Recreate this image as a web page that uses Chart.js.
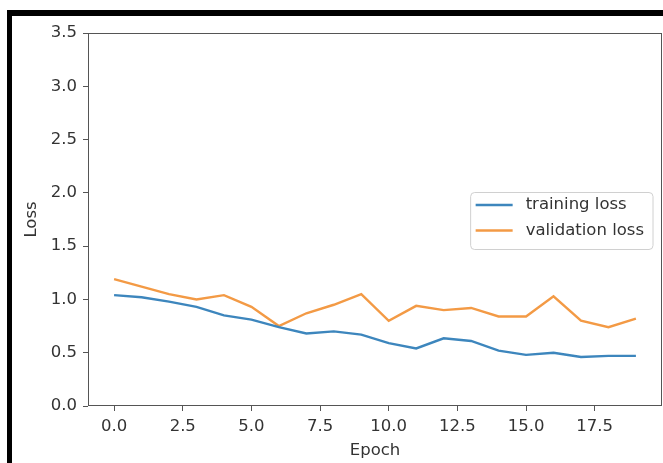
<!DOCTYPE html>
<html>
<head>
<meta charset="utf-8">
<script src="https://cdn.jsdelivr.net/npm/chart.js@4.4.0/dist/chart.umd.min.js"></script>
<style>
  html, body { margin: 0; padding: 0; background: #fff; }
  #wrap { position: relative; width: 663px; height: 463px; overflow: hidden; }
  #frame { position: absolute; left: 7px; top: 10px; width: 700px; height: 500px;
           border-top: 6px solid #000; border-left: 5px solid #000; pointer-events: none; }
</style>
</head>
<body>
<div id="wrap">
  <canvas id="lossChart" width="663" height="463"></canvas>
  <div id="frame"></div>
</div>
<script>
// values
const epochs = [0, 1, 2, 3, 4, 5, 6, 7, 8, 9, 10, 11, 12, 13, 14, 15, 16, 17, 18, 19];
const trainingLoss = [1.04, 1.02, 0.98, 0.93, 0.85, 0.81, 0.74, 0.68, 0.70, 0.67, 0.59, 0.54, 0.635, 0.61, 0.52, 0.48, 0.50, 0.46, 0.47, 0.47];
const validationLoss = [1.19, 1.12, 1.05, 1.00, 1.04, 0.93, 0.75, 0.87, 0.95, 1.05, 0.80, 0.94, 0.90, 0.92, 0.84, 0.84, 1.03, 0.80, 0.74, 0.82];
const xTicks = [0, 2.5, 5, 7.5, 10, 12.5, 15, 17.5];
const yTicks = [0, 0.5, 1, 1.5, 2, 2.5, 3, 3.5];

const font = { family: 'DejaVu Sans', size: 16.5 };
const textColor = '#333';
const axisColor = '#555';

// box around the plot + legend inside the plot (center right)
const boxAndLegend = {
  id: 'boxAndLegend',
  afterDraw(chart) {
    const { ctx, chartArea: a } = chart;
    ctx.save();
    ctx.strokeStyle = axisColor;
    ctx.lineWidth = 1;
    ctx.strokeRect(Math.round(a.left) + 0.5, Math.round(a.top) + 0.5,
                   Math.round(a.right - a.left) - 1, Math.round(a.bottom - a.top) - 1);

    ctx.font = font.size + 'px ' + font.family;
    const sets = chart.data.datasets;
    let tw = 0;
    sets.forEach(d => { tw = Math.max(tw, ctx.measureText(d.label).width); });
    const w = tw + 64, h = 57;
    const x0 = a.right - 9 - w;
    const y0 = (a.top + a.bottom) / 2 - h / 2 + 1.5;
    ctx.beginPath();
    ctx.roundRect(x0, y0, w, h, 4);
    ctx.fillStyle = 'rgba(255,255,255,0.8)';
    ctx.fill();
    ctx.strokeStyle = '#d0d0d0';
    ctx.stroke();

    sets.forEach((d, i) => {
      const yy = y0 + 12.5 + i * 25.5;
      ctx.beginPath();
      ctx.moveTo(x0 + 5, yy);
      ctx.lineTo(x0 + 42, yy);
      ctx.strokeStyle = d.borderColor;
      ctx.lineWidth = d.borderWidth;
      ctx.stroke();
      ctx.fillStyle = textColor;
      ctx.textBaseline = 'middle';
      ctx.fillText(d.label, x0 + 55, yy);
    });
    ctx.restore();
  }
};

new Chart(document.getElementById('lossChart'), {
  type: 'line',
  data: {
    datasets: [{
      label: 'training loss',
      data: epochs.map((e, i) => ({ x: e, y: trainingLoss[i] })),
      borderColor: '#3d86bd',
      borderWidth: 2.4,
      pointRadius: 0,
      tension: 0,
      fill: false
    }, {
      label: 'validation loss',
      data: epochs.map((e, i) => ({ x: e, y: validationLoss[i] })),
      borderColor: '#f39a45',
      borderWidth: 2.4,
      pointRadius: 0,
      tension: 0,
      fill: false
    }]
  },
  options: {
    responsive: false,
    animation: false,
    layout: { padding: { left: 22, top: 33, right: 1, bottom: 2 } },
    plugins: {
      legend: { display: false },
      tooltip: { enabled: false }
    },
    scales: {
      x: {
        type: 'linear',
        min: -0.95,
        max: 19.95,
        afterBuildTicks: s => { s.ticks = xTicks.map(v => ({ value: v })); },
        afterFit: s => { s.height = 55; },
        ticks: { callback: v => v.toFixed(1), color: textColor, font: font, padding: 6, maxRotation: 0, autoSkip: false },
        grid: { drawOnChartArea: false, tickLength: 5, color: axisColor },
        border: { display: false },
        title: { display: true, text: 'Epoch', color: textColor, font: font, padding: 0 }
      },
      y: {
        min: 0,
        max: 3.5,
        afterBuildTicks: s => { s.ticks = yTicks.map(v => ({ value: v })); },
        afterFit: s => { s.width = 66; },
        ticks: { callback: v => v.toFixed(1), color: textColor, font: font, padding: 6, autoSkip: false },
        grid: { drawOnChartArea: false, tickLength: 5, color: axisColor },
        border: { display: false },
        title: { display: true, text: 'Loss', color: textColor, font: font, padding: 0 }
      }
    }
  },
  plugins: [boxAndLegend]
});
</script>
</body>
</html>
